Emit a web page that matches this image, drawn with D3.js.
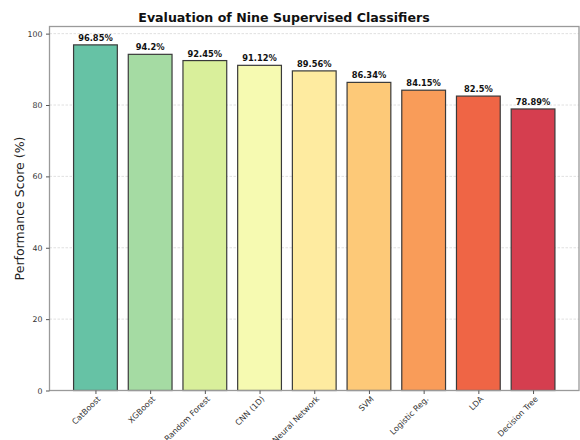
<!DOCTYPE html>
<html>
<head>
<meta charset="utf-8">
<script src="https://cdn.jsdelivr.net/npm/d3@7/dist/d3.min.js"></script>
<style>
  html, body { margin: 0; padding: 0; background: #fff; }
  svg { display: block; font-family: "DejaVu Sans", sans-serif; }
</style>
</head>
<body>
<script>
// Classifier names and their performance scores (%)
const classifiers = ["CatBoost", "XGBoost", "Random Forest", "CNN (1D)", "Neural Network",
                     "SVM", "Logistic Reg.", "LDA", "Decision Tree"];
const scores = [96.85, 94.2, 92.45, 91.12, 89.56, 86.34, 84.15, 82.5, 78.89];
const scoreLabels = ["96.85%", "94.2%", "92.45%", "91.12%", "89.56%", "86.34%", "84.15%", "82.5%", "78.89%"];
const yTicks = [0, 20, 40, 60, 80, 100];

// Spectral-style palette, cool to warm
const palette = ["#66c2a5", "#a5dba3", "#d9ef9b", "#f6fab1", "#feeba0",
                 "#fdc978", "#f99c59", "#ef6545", "#d53e4f"];

const W = 580, H = 440;
const m = { left: 49.5, right: 1, top: 26.5, bottom: 49.5 };
const iw = W - m.left - m.right, ih = H - m.top - m.bottom;

const svg = d3.select("body").append("svg").attr("width", W).attr("height", H);
const g = svg.append("g").attr("transform", `translate(${m.left},${m.top})`);

// Linear x scale over bar indices with matplotlib-like margins
const x = d3.scaleLinear().domain([-0.84, classifiers.length - 1 + 0.84]).range([0, iw]);
const barW = x(0.4) - x(-0.4);
const y = d3.scaleLinear().domain([0, 102]).range([ih, 0]);

// Horizontal grid
g.append("g").selectAll("line").data(yTicks.filter(t => t > 0)).join("line")
  .attr("x1", 0).attr("x2", iw)
  .attr("y1", d => y(d)).attr("y2", d => y(d))
  .attr("stroke", "#d8d8d8").attr("stroke-width", 0.8)
  .attr("stroke-dasharray", "2.5,1.5");

// Bars
g.append("g").selectAll("rect").data(scores).join("rect")
  .attr("x", (d, i) => x(i) - barW / 2)
  .attr("y", d => y(d))
  .attr("width", barW)
  .attr("height", d => ih - y(d))
  .attr("fill", (d, i) => palette[i])
  .attr("stroke", "#3a3a3a")
  .attr("stroke-width", 1.2);

// Value labels above bars
g.append("g").selectAll("text").data(scores).join("text")
  .attr("x", (d, i) => x(i))
  .attr("y", d => y(d) - 4)
  .attr("text-anchor", "middle")
  .attr("font-size", 8.3)
  .attr("font-weight", "bold")
  .attr("fill", "#111")
  .text((d, i) => scoreLabels[i]);

// Frame
g.append("rect").attr("x", 0).attr("y", 0).attr("width", iw).attr("height", ih)
  .attr("fill", "none").attr("stroke", "#9a9a9a").attr("stroke-width", 1.3);

// Y axis
const yAxis = g.append("g").call(d3.axisLeft(y).tickValues(yTicks).tickSize(3.5).tickPadding(3.5));
yAxis.select(".domain").remove();
yAxis.selectAll("line").attr("stroke", "#555");
yAxis.selectAll("text").attr("font-size", 7.8).attr("fill", "#333").attr("font-family", "DejaVu Sans");

// X axis with rotated labels
const xAxis = g.append("g").attr("transform", `translate(0,${ih})`)
  .call(d3.axisBottom(x).tickValues(d3.range(classifiers.length))
        .tickFormat(i => classifiers[i]).tickSize(3.5));
xAxis.select(".domain").remove();
xAxis.selectAll("line").attr("stroke", "#555");
xAxis.selectAll("text")
  .attr("font-size", 8).attr("fill", "#333").attr("font-family", "DejaVu Sans")
  .attr("text-anchor", "end")
  .attr("dy", null).attr("y", 0)
  .attr("transform", "translate(5,9) rotate(-45)");

// Titles
svg.append("text")
  .attr("x", 284).attr("y", 22)
  .attr("text-anchor", "middle")
  .attr("font-size", 12.6).attr("font-weight", "bold").attr("fill", "#111")
  .text("Evaluation of Nine Supervised Classifiers");

svg.append("text")
  .attr("transform", `translate(24,${m.top + ih / 2}) rotate(-90)`)
  .attr("text-anchor", "middle")
  .attr("font-size", 12.5).attr("fill", "#222")
  .text("Performance Score (%)");
</script>
</body>
</html>
